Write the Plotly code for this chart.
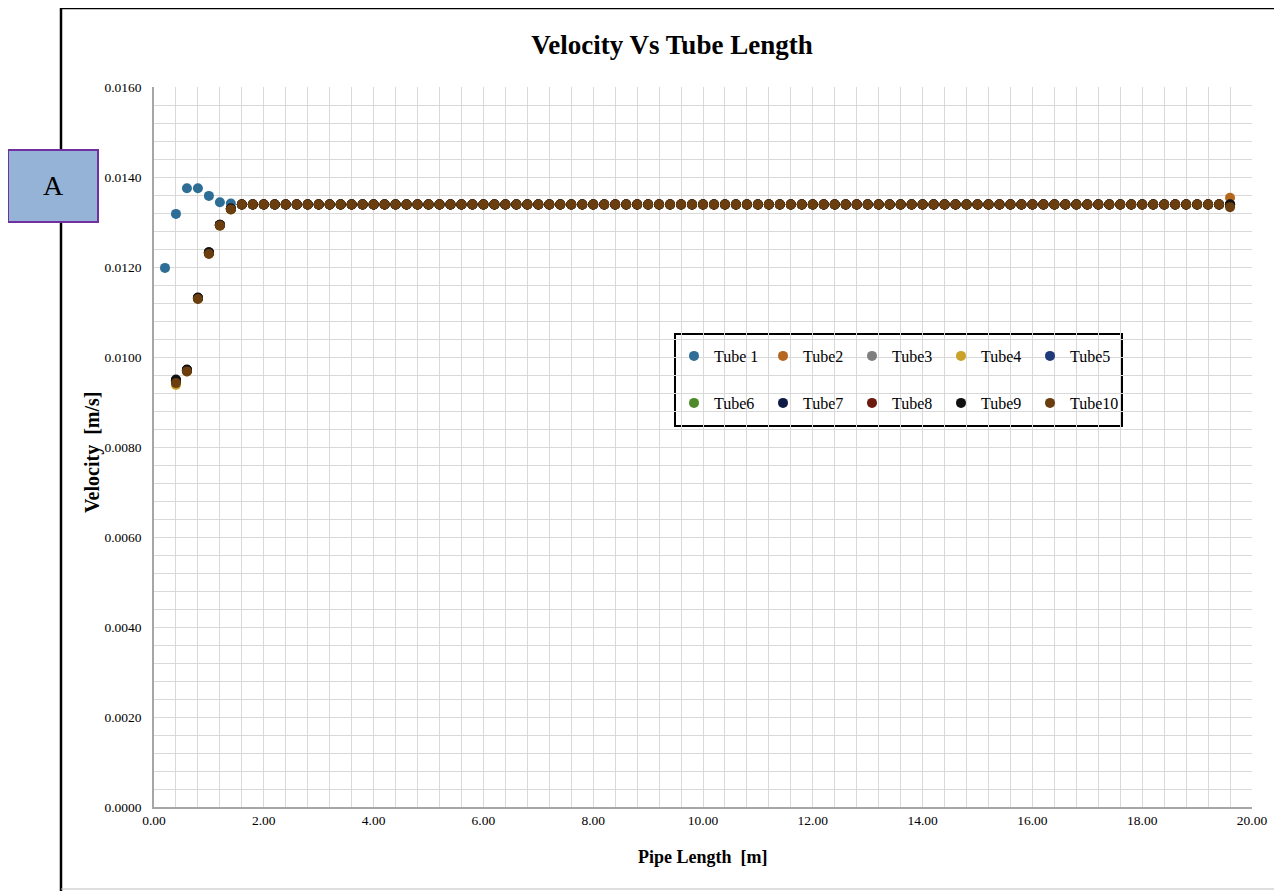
import plotly.graph_objects as go

# ---------------- data ----------------
tube_names = ["Tube 1", "Tube2", "Tube3", "Tube4", "Tube5",
              "Tube6", "Tube7", "Tube8", "Tube9", "Tube10"]
tube_colors = ["#2E6E96", "#B5661F", "#7F7F7F", "#C9A227", "#1F3A7A",
               "#4E8A2A", "#0E1A45", "#6B1A0C", "#111111", "#6B3E10"]

# pipe length stations (m), every 0.2 m from 0.2 to 19.6
pipe_length = [round(0.2 * i, 1) for i in range(1, 99)]

plateau = 0.01339  # developed velocity

# Tube 1 starts at 0.2 m
tube1_start = [0.01198, 0.01318, 0.01375, 0.01375, 0.01358, 0.01344, 0.01341]
# Tubes 2-10 start at 0.4 m (values for 0.4, 0.6, 0.8, 1.0, 1.2, 1.4)
others_start = {
    "Tube2":  [0.00945, 0.00970, 0.01131, 0.01232, 0.01294, 0.01330],
    "Tube3":  [0.00946, 0.00971, 0.01131, 0.01231, 0.01293, 0.01329],
    "Tube4":  [0.00938, 0.00968, 0.01130, 0.01230, 0.01292, 0.01328],
    "Tube5":  [0.00947, 0.00971, 0.01131, 0.01232, 0.01293, 0.01329],
    "Tube6":  [0.00946, 0.00970, 0.01130, 0.01231, 0.01293, 0.01329],
    "Tube7":  [0.00948, 0.00971, 0.01131, 0.01232, 0.01294, 0.01330],
    "Tube8":  [0.00947, 0.00970, 0.01130, 0.01231, 0.01293, 0.01329],
    "Tube9":  [0.00950, 0.00972, 0.01132, 0.01233, 0.01294, 0.01330],
    "Tube10": [0.00942, 0.00968, 0.01129, 0.01229, 0.01292, 0.01328],
}
last_values = {"Tube 1": 0.01339, "Tube2": 0.01354, "Tube3": 0.01339, "Tube4": 0.01339,
               "Tube5": 0.01339, "Tube6": 0.01339, "Tube7": 0.01339, "Tube8": 0.01339,
               "Tube9": 0.01339, "Tube10": 0.01333}

x_ticks = [0, 2, 4, 6, 8, 10, 12, 14, 16, 18, 20]
y_ticks = [0.0, 0.002, 0.004, 0.006, 0.008, 0.010, 0.012, 0.014, 0.016]

# ---------------- build series ----------------
series = {}
n = len(pipe_length)
t1 = tube1_start + [plateau] * (n - len(tube1_start) - 1) + [last_values["Tube 1"]]
series["Tube 1"] = (pipe_length, t1)
for name in tube_names[1:]:
    st = others_start[name]
    xs = pipe_length[1:]
    ys = st + [plateau] * (len(xs) - len(st) - 1) + [last_values[name]]
    series[name] = (xs, ys)

FONT = "Liberation Serif"
fig = go.Figure()
for i, name in enumerate(tube_names):
    xs, ys = series[name]
    fig.add_trace(go.Scatter(
        x=xs, y=ys, mode="markers", name=name,
        marker=dict(color=tube_colors[i], size=10, line=dict(width=0)),
        legend="legend" if i < 5 else "legend2",
    ))

# page has an 8px body margin: figure coords = screen coords - 8
OFF = 8
W, H = 1274, 883
L, T = 154 - OFF, 87 - OFF
R = W - (1252 - OFF)
B = H - (807 - OFF)
pw, ph = W - L - R, H - T - B

def px_x(p):
    return (p - OFF - L) / pw

def px_y(p):
    return (H - B - (p - OFF)) / ph

grid_col = "#D9D9D9"
leg_common = dict(orientation="h", xanchor="left", yanchor="middle",
                  entrywidth=44, entrywidthmode="pixels", bgcolor="rgba(0,0,0,0)",
                  font=dict(family=FONT, size=16), itemwidth=30, traceorder="normal")
fig.update_layout(
    width=W, height=H,
    margin=dict(l=L, r=R, t=T, b=B, autoexpand=False),
    paper_bgcolor="white", plot_bgcolor="white",
    font=dict(family=FONT, color="black"),
    showlegend=True,
    title=dict(text="<b>Velocity Vs Tube Length</b>", x=(672 - OFF) / W, xanchor="center",
               y=1 - (45 - OFF) / H, yanchor="middle",
               font=dict(family=FONT, size=27, color="black")),
    xaxis=dict(range=[0, 20], tickvals=x_ticks,
               ticktext=[f"{v:.2f}" for v in x_ticks],
               showgrid=True, gridcolor=grid_col, gridwidth=1,
               minor=dict(dtick=0.4, showgrid=True, gridcolor=grid_col, gridwidth=1),
               showline=True, linecolor="#A6A6A6", linewidth=1.5,
               zeroline=False, ticks="", tickfont=dict(family=FONT, size=13.5, color="black")),
    yaxis=dict(range=[0, 0.016], tickvals=y_ticks,
               ticktext=[f"{v:.4f}" for v in y_ticks],
               showgrid=True, gridcolor=grid_col, gridwidth=1,
               minor=dict(dtick=0.0004, showgrid=True, gridcolor=grid_col, gridwidth=1),
               showline=True, linecolor="#A6A6A6", linewidth=1.5,
               zeroline=False, ticks="", ticklabelstandoff=8,
               tickfont=dict(family=FONT, size=13.5, color="black")),
    legend=dict(x=px_x(674), y=px_y(356), **leg_common),
    legend2=dict(x=px_x(674), y=px_y(403), **leg_common),
)

shapes = [
    # legend box
    dict(type="rect", xref="paper", yref="paper", x0=px_x(675), x1=px_x(1122),
         y0=px_y(426), y1=px_y(334), line=dict(color="black", width=2),
         fillcolor="white", layer="below"),
    # outer chart border: left and top black, bottom thin gray
    dict(type="line", xref="paper", yref="paper", x0=px_x(61), x1=px_x(61),
         y0=px_y(891), y1=px_y(8), line=dict(color="black", width=2.5)),
    dict(type="line", xref="paper", yref="paper", x0=px_x(61), x1=px_x(1300),
         y0=px_y(8), y1=px_y(8), line=dict(color="black", width=2.5)),
    dict(type="line", xref="paper", yref="paper", x0=px_x(61), x1=px_x(1300),
         y0=px_y(889), y1=px_y(889), line=dict(color="#BFBFBF", width=1)),
    # label box "A"
    dict(type="rect", xref="paper", yref="paper", x0=px_x(8), x1=px_x(98),
         y0=px_y(222), y1=px_y(150), line=dict(color="#7030A0", width=2),
         fillcolor="#95B3D7"),
]
fig.update_layout(shapes=shapes)

ann = dict(xref="paper", yref="paper", showarrow=False, xanchor="center", yanchor="middle")
fig.add_annotation(text="A", x=px_x(53), y=px_y(186),
                   font=dict(family=FONT, size=28, color="black"), **ann)
fig.add_annotation(text="<b>Pipe Length  [m]</b>", x=px_x(703), y=px_y(857),
                   font=dict(family=FONT, size=18, color="black"), **ann)
fig.add_annotation(text="<b>Velocity  [m/s]</b>", x=px_x(92), y=px_y(453), textangle=-90,
                   font=dict(family=FONT, size=20, color="black"), **ann)

fig.write_html("out.html")
